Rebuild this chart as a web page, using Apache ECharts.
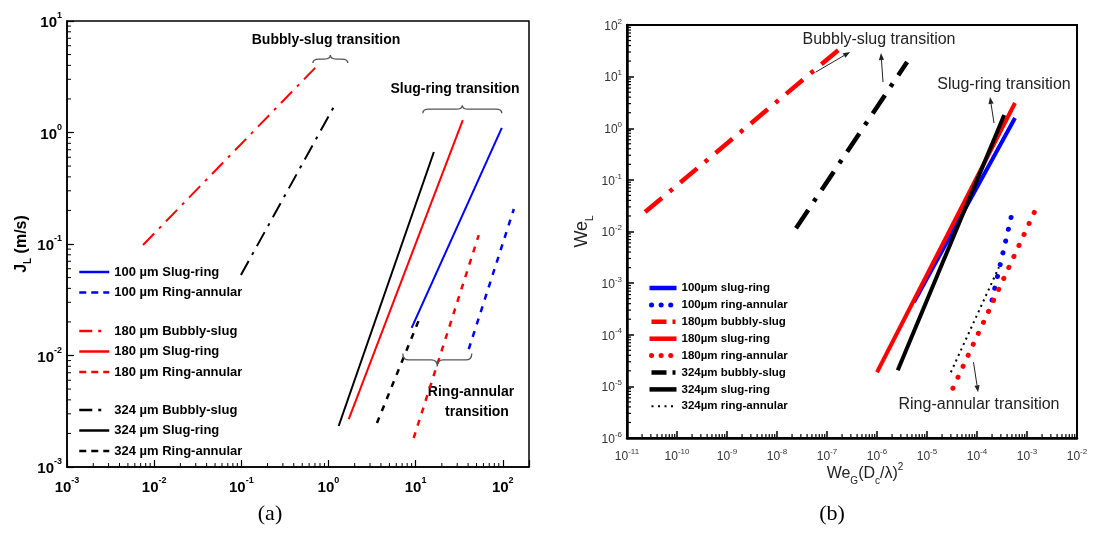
<!DOCTYPE html>
<html>
<head>
<meta charset="utf-8">
<script src="https://cdn.jsdelivr.net/npm/echarts@6/dist/echarts.min.js"></script>
<style>
  html, body { margin: 0; padding: 0; background: #fff; }
  #chart { width: 1095px; height: 556px; }
</style>
</head>
<body>
<div id="chart"></div>
<script>
// (a) transition lines, end points [x, J_L (m/s)]
const a100SlugRing = [[9.0, 0.0177], [97.5, 1.10]];
const a100RingAnnular = [[40.7, 0.0114], [134, 0.206]];
const a180BubblySlug = [[0.00745, 0.098], [0.736, 3.94]];
const a180SlugRing = [[1.71, 0.00269], [34.8, 1.29]];
const a180RingAnnular = [[9.5, 0.00182], [53, 0.120]];
const a324BubblySlug = [[0.099, 0.0527], [1.22, 1.84]];
const a324SlugRing = [[1.31, 0.00233], [16.2, 0.668]];
const a324RingAnnular = [[3.6, 0.00248], [10.9, 0.0208]];

// (b) transition lines, end points [We_G(Dc/λ)^2, We_L]
const b100SlugRing = [[5.5e-6, 4.3e-4], [5.75e-4, 1.58]];
const b100RingAnnular = [[2.0e-4, 4.7e-4], [5.25e-4, 0.0272]];
const b180BubblySlug = [[2.3e-11, 0.0238], [2.0e-7, 37.5]];
const b180SlugRing = [[1.0e-6, 1.88e-5], [5.75e-4, 3.08]];
const b180RingAnnular = [[3.3e-5, 9.2e-6], [1.5e-3, 0.0272]];
const b324BubblySlug = [[2.4e-8, 0.0116], [4.0e-6, 19.2]];
const b324SlugRing = [[2.6e-6, 2.06e-5], [3.5e-4, 1.80]];
const b324RingAnnular = [[3.0e-5, 1.88e-5], [2.75e-4, 2.04e-3]];

// axis ranges (decades)
const aXRange = [0.001, 200], aYRange = [0.001, 10];
const bXRange = [1e-11, 1e-2], bYRange = [1e-6, 100];
const minorSteps = [2, 3, 4, 5, 6, 7, 8, 9];

// braces in (a): [xFrom, xTo, y, depth px, dir (-1 tip up, 1 tip down)]
const aBraces = [[0.662, 1.667, 4.56, 8, -1], [12.1, 97.5, 1.62, 8, -1], [7.13, 44.1, 0.00912, 13, 1]];
// arrows in (b): [xTail, yTail, xHead, yHead]
const bArrows = [
  [6.0e-8, 12.3, 2.9e-7, 30],
  [1.32e-6, 7.85, 1.2e-6, 28.6],
  [2.19e-4, 1.26, 1.82e-4, 4.03],
  [8.5e-5, 2.94e-5, 1.05e-4, 7.7e-6]
];

const BLUE = '#0000ff', RED = '#ff0000', BLACK = '#000000';
const SANS = "'Liberation Sans', Arial, sans-serif";

const L = Math.log10;
const lg = pts => pts.map(p => [L(p[0]), L(p[1])]);

function line(name, pts, color, width, type, idx, cap) {
  return {
    name: name, type: 'line', xAxisIndex: idx, yAxisIndex: idx,
    data: lg(pts), symbol: 'none', silent: true, z: 3,
    itemStyle: { color: color },
    lineStyle: { color: color, width: width, type: type, cap: cap || 'butt' }
  };
}

function powLabel(v) {
  const e = Math.round(v);
  return Math.abs(v - e) > 1e-6 ? '' : '{b|10}{s|' + e + '}';
}

function minorData(xr, yr) {
  const out = [];
  const x0 = L(xr[0]), x1 = L(xr[1]), y0 = L(yr[0]), y1 = L(yr[1]);
  for (let e = Math.floor(x0); e < x1; e++) {
    minorSteps.forEach(m => { const v = e + L(m); if (v > x0 && v < x1) out.push([v, y0, 0]); });
  }
  for (let e = Math.floor(y0); e < y1; e++) {
    minorSteps.forEach(m => { const v = e + L(m); if (v > y0 && v < y1) out.push([x0, v, 1]); });
  }
  return out;
}

function minorSeries(idx, xr, yr, len, w) {
  return {
    type: 'custom', xAxisIndex: idx, yAxisIndex: idx, silent: true, z: 4,
    data: minorData(xr, yr), encode: { x: 0, y: 1 },
    renderItem: (params, api) => {
      const p = api.coord([api.value(0), api.value(1)]);
      const isY = api.value(2) === 1;
      return {
        type: 'line',
        shape: isY ? { x1: p[0], y1: p[1], x2: p[0] + len, y2: p[1] } : { x1: p[0], y1: p[1], x2: p[0], y2: p[1] - len },
        style: { stroke: '#000', lineWidth: w }
      };
    }
  };
}

const braceSeries = {
  type: 'custom', xAxisIndex: 0, yAxisIndex: 0, silent: true, z: 5,
  data: aBraces.map(b => [L(b[0]), L(b[1]), L(b[2]), b[3], b[4]]),
  encode: { x: [0, 1], y: 2 },
  renderItem: (params, api) => {
    const a = api.coord([api.value(0), api.value(2)]);
    const b = api.coord([api.value(1), api.value(2)]);
    const d = api.value(3), dir = api.value(4);
    const x1 = a[0], x2 = b[0], xm = (x1 + x2) / 2, ym = a[1];
    const yT = ym + dir * d / 2, yE = ym - dir * d / 2;
    const r = Math.min(6, (x2 - x1) / 5);
    const path = 'M' + x1 + ' ' + yE + ' Q' + x1 + ' ' + ym + ' ' + (x1 + r) + ' ' + ym +
      ' L' + (xm - r) + ' ' + ym + ' Q' + xm + ' ' + ym + ' ' + xm + ' ' + yT +
      ' Q' + xm + ' ' + ym + ' ' + (xm + r) + ' ' + ym +
      ' L' + (x2 - r) + ' ' + ym + ' Q' + x2 + ' ' + ym + ' ' + x2 + ' ' + yE;
    return { type: 'path', shape: { pathData: path }, style: { stroke: '#555', fill: null, lineWidth: 1.3 } };
  }
};

const arrowSeries = {
  type: 'custom', xAxisIndex: 1, yAxisIndex: 1, silent: true, z: 5,
  data: bArrows.map(a => [L(a[0]), L(a[1]), L(a[2]), L(a[3])]),
  encode: { x: [0, 2], y: [1, 3] },
  renderItem: (params, api) => {
    const p1 = api.coord([api.value(0), api.value(1)]);
    const p2 = api.coord([api.value(2), api.value(3)]);
    const ang = Math.atan2(p2[1] - p1[1], p2[0] - p1[0]);
    const hl = 7, hw = 2.6;
    const bx = p2[0] - hl * Math.cos(ang), by = p2[1] - hl * Math.sin(ang);
    const nx = -Math.sin(ang) * hw, ny = Math.cos(ang) * hw;
    return {
      type: 'group',
      children: [
        { type: 'line', shape: { x1: p1[0], y1: p1[1], x2: bx, y2: by }, style: { stroke: '#222', lineWidth: 1 } },
        { type: 'polygon', shape: { points: [[p2[0], p2[1]], [bx + nx, by + ny], [bx - nx, by - ny]] }, style: { fill: '#222' } }
      ]
    };
  }
};

const dashA = [6, 7], dashDotA = [16, 7, 3, 7];
const dotB = [0.1, 12], dashDotB = [22, 10, 4, 10], fineDotB = [2, 4];

const seriesA = [
  line('100 µm Slug-ring', a100SlugRing, BLUE, 2, 'solid', 0),
  line('100 µm Ring-annular', a100RingAnnular, BLUE, 2.5, dashA, 0),
  line('180 µm Bubbly-slug', a180BubblySlug, RED, 2, dashDotA, 0),
  line('180 µm Slug-ring', a180SlugRing, RED, 2, 'solid', 0),
  line('180 µm Ring-annular', a180RingAnnular, RED, 2.5, dashA, 0),
  line('324 µm Bubbly-slug', a324BubblySlug, BLACK, 2, dashDotA, 0),
  line('324 µm Slug-ring', a324SlugRing, BLACK, 2, 'solid', 0),
  line('324 µm Ring-annular', a324RingAnnular, BLACK, 2.5, dashA, 0)
];
const seriesB = [
  line('100µm slug-ring', b100SlugRing, BLUE, 4, 'solid', 1),
  line('100µm ring-annular', b100RingAnnular, BLUE, 5, dotB, 1, 'round'),
  line('180µm bubbly-slug', b180BubblySlug, RED, 4.5, dashDotB, 1),
  line('180µm slug-ring', b180SlugRing, RED, 4, 'solid', 1),
  line('180µm ring-annular', b180RingAnnular, RED, 5, dotB, 1, 'round'),
  line('324µm bubbly-slug', b324BubblySlug, BLACK, 4.5, dashDotB, 1),
  line('324µm slug-ring', b324SlugRing, BLACK, 4, 'solid', 1),
  line('324µm ring-annular', b324RingAnnular, BLACK, 2, fineDotB, 1)
];

// legend icon look, per line kind
const iconA = { solid: { width: 2.5, type: 'solid' }, dash: { width: 2.5, type: [7, 5] }, dashDot: { width: 2.5, type: [13, 6, 3, 8] } };
const iconB = {
  solid: { width: 4.5, type: 'solid', cap: 'butt' },
  dot: { width: 5, type: [0.1, 9.5], cap: 'round', dashOffset: -2 },
  dashDot: { width: 4.5, type: [15, 6, 3, 10], cap: 'butt' },
  fine: { width: 2, type: [2, 4.5], cap: 'butt' }
};
const kindA = ['solid', 'dash', 'dashDot', 'solid', 'dash', 'dashDot', 'solid', 'dash'];
const kindB = ['solid', 'dot', 'dashDot', 'solid', 'dot', 'dashDot', 'solid', 'fine'];

const richA = {
  b: { fontFamily: SANS, fontSize: 15, fontWeight: 'bold', color: '#000', padding: [4, 0, 0, 0] },
  s: { fontFamily: SANS, fontSize: 9, fontWeight: 'bold', color: '#000', verticalAlign: 'top' }
};
const richB = {
  b: { fontFamily: SANS, fontSize: 12, color: '#333', padding: [3, 0, 0, 0] },
  s: { fontFamily: SANS, fontSize: 8, color: '#333', verticalAlign: 'top' }
};

function legendA(from, to, top) {
  return {
    orient: 'vertical', left: 78, top: top, padding: 0, itemGap: 6.5,
    itemWidth: 30, itemHeight: 14, selectedMode: false,
    data: seriesA.slice(from, to).map((s, i) => ({ name: s.name, lineStyle: iconA[kindA[from + i]] })),
    itemStyle: { opacity: 0 },
    textStyle: { fontFamily: SANS, fontWeight: 'bold', fontSize: 13, color: '#000', lineHeight: 14 }
  };
}

const option = {
  animation: false,
  backgroundColor: '#fff',
  grid: [
    { left: 67, top: 21, width: 462, height: 446, show: true, borderColor: '#000', borderWidth: 1.5, backgroundColor: 'transparent' },
    { left: 627, top: 25, width: 450, height: 413, show: true, borderColor: '#000', borderWidth: 2, backgroundColor: 'transparent' }
  ],
  xAxis: [
    {
      gridIndex: 0, type: 'value', min: L(aXRange[0]), max: L(aXRange[1]), interval: 1,
      axisLine: { onZero: false, lineStyle: { color: '#000', width: 1.5 } },
      axisTick: { inside: true, length: 7, lineStyle: { color: '#000', width: 1.2 } },
      splitLine: { show: false },
      axisLabel: { margin: 9, formatter: powLabel, rich: richA }
    },
    {
      gridIndex: 1, type: 'value', min: L(bXRange[0]), max: L(bXRange[1]), interval: 1,
      name: '{t|We}{sub|G}{t|(D}{sub|c}{t|/λ)}{sup|2}', nameLocation: 'middle', nameGap: 24,
      nameMoveOverlap: false,
      nameTextStyle: {
        padding: [0, 0, 0, 26],
        rich: {
          t: { fontFamily: SANS, fontSize: 16, color: '#222', padding: [4, 0, 4, 0] },
          sub: { fontFamily: SANS, fontSize: 10, color: '#222', verticalAlign: 'bottom' },
          sup: { fontFamily: SANS, fontSize: 10, color: '#222', verticalAlign: 'top' }
        }
      },
      axisLine: { onZero: false, lineStyle: { color: '#000', width: 2.5 } },
      axisTick: { inside: true, length: 7, lineStyle: { color: '#000', width: 1.5 } },
      splitLine: { show: false },
      axisLabel: { margin: 10, formatter: powLabel, rich: richB }
    }
  ],
  yAxis: [
    {
      gridIndex: 0, type: 'value', min: L(aYRange[0]), max: L(aYRange[1]), interval: 1,
      name: '{t|J}{sub|L}{t| (m/s)}', nameLocation: 'middle', nameGap: 33, nameRotate: 90,
      nameTextStyle: {
        rich: {
          t: { fontFamily: SANS, fontSize: 16, fontWeight: 'bold', color: '#000', padding: [0, 0, 4, 0] },
          sub: { fontFamily: SANS, fontSize: 10, fontWeight: 'bold', color: '#000', verticalAlign: 'bottom' }
        }
      },
      axisLine: { onZero: false, lineStyle: { color: '#000', width: 1.5 } },
      axisTick: { inside: true, length: 7, lineStyle: { color: '#000', width: 1.2 } },
      splitLine: { show: false },
      axisLabel: { margin: 5, formatter: powLabel, rich: richA }
    },
    {
      gridIndex: 1, type: 'value', min: L(bYRange[0]), max: L(bYRange[1]), interval: 1,
      name: '{t|We}{sub|L}', nameLocation: 'middle', nameGap: 32, nameRotate: 90,
      nameTextStyle: {
        rich: {
          t: { fontFamily: SANS, fontSize: 18, color: '#222', padding: [0, 0, 4, 0] },
          sub: { fontFamily: SANS, fontSize: 10, color: '#222', verticalAlign: 'bottom' }
        }
      },
      axisLine: { onZero: false, lineStyle: { color: '#000', width: 2.5 } },
      axisTick: { inside: true, length: 7, lineStyle: { color: '#000', width: 1.5 } },
      splitLine: { show: false },
      axisLabel: { margin: 5, formatter: powLabel, rich: richB }
    }
  ],
  legend: [
    legendA(0, 2, 265),
    legendA(2, 5, 324),
    legendA(5, 8, 403),
    {
      orient: 'vertical', left: 647, top: 282, padding: 0, itemGap: 4.9,
      itemWidth: 27, itemHeight: 12, selectedMode: false,
      data: seriesB.map((s, i) => ({ name: s.name, lineStyle: iconB[kindB[i]] })),
      itemStyle: { opacity: 0 },
      textStyle: { fontFamily: SANS, fontWeight: 'bold', fontSize: 11.5, color: '#000', lineHeight: 12 }
    }
  ],
  graphic: [
    { type: 'text', style: { x: 326, y: 40, text: 'Bubbly-slug transition', font: "bold 14px " + SANS, fill: '#000', align: 'center', verticalAlign: 'middle' } },
    { type: 'text', style: { x: 455, y: 89, text: 'Slug-ring transition', font: "bold 14px " + SANS, fill: '#000', align: 'center', verticalAlign: 'middle' } },
    { type: 'text', style: { x: 471, y: 392, text: 'Ring-annular', font: "bold 14px " + SANS, fill: '#000', align: 'center', verticalAlign: 'middle' } },
    { type: 'text', style: { x: 477, y: 412, text: 'transition', font: "bold 14px " + SANS, fill: '#000', align: 'center', verticalAlign: 'middle' } },
    { type: 'text', style: { x: 879, y: 40, text: 'Bubbly-slug transition', font: "16px " + SANS, fill: '#222', align: 'center', verticalAlign: 'middle' } },
    { type: 'text', style: { x: 1004, y: 85, text: 'Slug-ring transition', font: "16px " + SANS, fill: '#222', align: 'center', verticalAlign: 'middle' } },
    { type: 'text', style: { x: 979, y: 405, text: 'Ring-annular transition', font: "16px " + SANS, fill: '#222', align: 'center', verticalAlign: 'middle' } },
    { type: 'text', style: { x: 270, y: 514, text: '(a)', font: "22px 'Liberation Serif', serif", fill: '#000', align: 'center', verticalAlign: 'middle' } },
    { type: 'text', style: { x: 832, y: 514, text: '(b)', font: "22px 'Liberation Serif', serif", fill: '#000', align: 'center', verticalAlign: 'middle' } }
  ],
  series: [].concat(
    seriesA, seriesB,
    [minorSeries(0, aXRange, aYRange, 4, 1), minorSeries(1, bXRange, bYRange, 4, 1.2), braceSeries, arrowSeries]
  )
};

const chart = echarts.init(document.getElementById('chart'));
chart.setOption(option);
</script>
</body>
</html>
